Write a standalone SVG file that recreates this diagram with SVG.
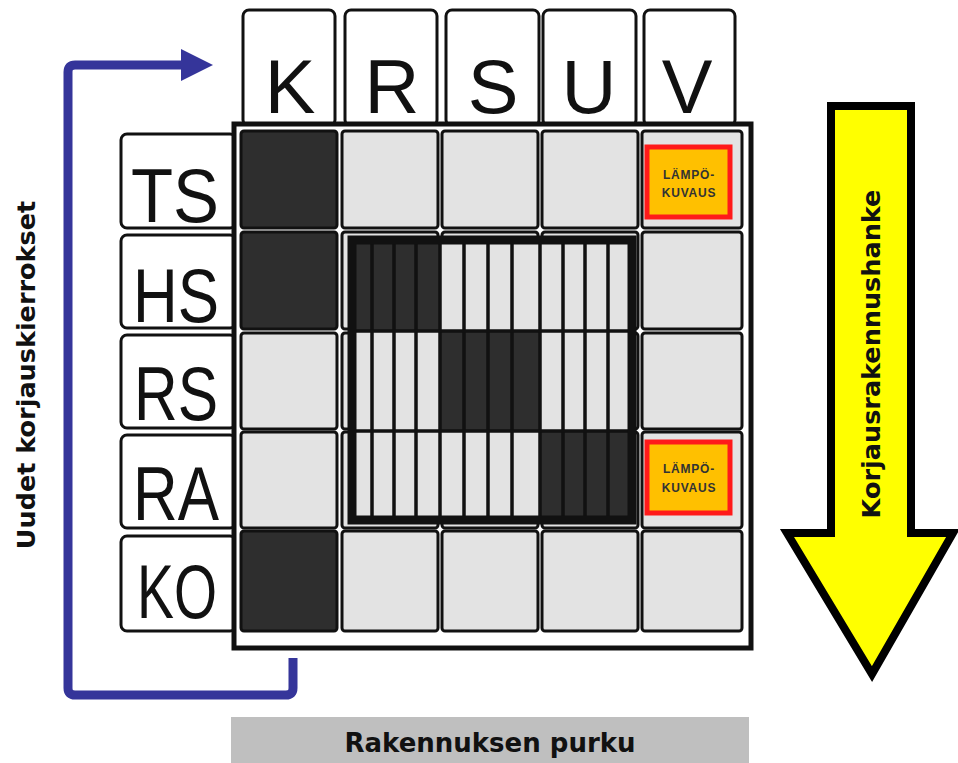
<svg xmlns="http://www.w3.org/2000/svg" width="958" height="763" viewBox="0 0 958 763">
<defs>
<style>
.hdr{fill:#fff;stroke:#111;stroke-width:3}
.big{font-family:"Liberation Sans",Arial,sans-serif;font-size:76px;fill:#111;text-anchor:middle}
.cell{fill:#e3e3e3;stroke:#111;stroke-width:3}
.dark{fill:#2e2e2e;stroke:#111;stroke-width:3}
.stripe{stroke:#111;stroke-width:3.5}
.lbl{font-family:"DejaVu Sans",Verdana,sans-serif;font-weight:bold;font-size:25.5px;fill:#111;text-anchor:middle}
.orange{fill:#ffc000;stroke:#ff1a1a;stroke-width:5}
.small{font-family:"Liberation Sans",Arial,sans-serif;font-weight:bold;font-size:12px;fill:#333;text-anchor:middle;letter-spacing:0.8px}
</style>
</defs>
<rect width="958" height="763" fill="#fff"/>

<!-- column headers -->
<g id="col-K"><rect class="hdr" x="243" y="10" width="92" height="116" rx="6"/><text class="big" x="290" y="113">K</text></g>
<g id="col-R"><rect class="hdr" x="345" y="10" width="92" height="116" rx="6"/><text class="big" x="392" y="113">R</text></g>
<g id="col-S"><rect class="hdr" x="446" y="10" width="93" height="116" rx="6"/><text class="big" x="493" y="113">S</text></g>
<g id="col-U"><rect class="hdr" x="543" y="10" width="93" height="116" rx="6"/><text class="big" x="589" y="113">U</text></g>
<g id="col-V"><rect class="hdr" x="644" y="10" width="91" height="116" rx="6"/><text class="big" x="687" y="113">V</text></g>

<!-- row headers -->
<g id="row-TS"><rect class="hdr" x="121" y="134" width="115" height="94" rx="6"/><text class="big" x="175" y="222" textLength="88" lengthAdjust="spacingAndGlyphs">TS</text></g>
<g id="row-HS"><rect class="hdr" x="121" y="235" width="115" height="93" rx="6"/><text class="big" x="176" y="322" textLength="86" lengthAdjust="spacingAndGlyphs">HS</text></g>
<g id="row-RS"><rect class="hdr" x="121" y="335" width="115" height="93" rx="6"/><text class="big" x="176" y="420" textLength="84" lengthAdjust="spacingAndGlyphs">RS</text></g>
<g id="row-RA"><rect class="hdr" x="121" y="435" width="115" height="93" rx="6"/><text class="big" x="176" y="520" textLength="86" lengthAdjust="spacingAndGlyphs">RA</text></g>
<g id="row-KO"><rect class="hdr" x="121" y="536" width="115" height="95" rx="6"/><text class="big" x="177" y="618" textLength="80" lengthAdjust="spacingAndGlyphs">KO</text></g>

<!-- matrix -->
<g id="matrix">
<rect x="234" y="124" width="517" height="524" fill="#fff" stroke="#111" stroke-width="5"/>
<!-- row TS -->
<rect class="dark" x="241" y="131" width="96" height="97" rx="3"/>
<rect class="cell" x="342" y="131" width="96" height="97" rx="3"/>
<rect class="cell" x="442" y="131" width="96" height="97" rx="3"/>
<rect class="cell" x="542" y="131" width="96" height="97" rx="3"/>
<rect class="cell" x="642" y="131" width="100" height="97" rx="3"/>
<!-- row HS -->
<rect class="dark" x="241" y="232" width="96" height="97" rx="3"/>
<rect class="cell" x="342" y="232" width="96" height="97" rx="3"/>
<rect class="cell" x="442" y="232" width="96" height="97" rx="3"/>
<rect class="cell" x="542" y="232" width="96" height="97" rx="3"/>
<rect class="cell" x="642" y="232" width="100" height="97" rx="3"/>
<!-- row RS -->
<rect class="cell" x="241" y="333" width="96" height="96" rx="3"/>
<rect class="cell" x="342" y="333" width="96" height="96" rx="3"/>
<rect class="cell" x="442" y="333" width="96" height="96" rx="3"/>
<rect class="cell" x="542" y="333" width="96" height="96" rx="3"/>
<rect class="cell" x="642" y="333" width="100" height="96" rx="3"/>
<!-- row RA -->
<rect class="cell" x="241" y="432" width="96" height="96" rx="3"/>
<rect class="cell" x="342" y="432" width="96" height="96" rx="3"/>
<rect class="cell" x="442" y="432" width="96" height="96" rx="3"/>
<rect class="cell" x="542" y="432" width="96" height="96" rx="3"/>
<rect class="cell" x="642" y="432" width="100" height="96" rx="3"/>
<!-- row KO -->
<rect class="dark" x="241" y="531" width="96" height="100" rx="3"/>
<rect class="cell" x="342" y="531" width="96" height="100" rx="3"/>
<rect class="cell" x="442" y="531" width="96" height="100" rx="3"/>
<rect class="cell" x="542" y="531" width="96" height="100" rx="3"/>
<rect class="cell" x="642" y="531" width="100" height="100" rx="3"/>
</g>

<!-- inner striped block -->
<g id="inner-block">
<rect x="352" y="240" width="280" height="280" fill="#e3e3e3"/>
<rect x="352" y="240" width="88" height="90" fill="#2e2e2e"/>
<rect x="440" y="332" width="100" height="98" fill="#2e2e2e"/>
<rect x="540" y="432" width="92" height="88" fill="#2e2e2e"/>
<g class="stripe">
<line x1="372" y1="240" x2="372" y2="520"/>
<line x1="394" y1="240" x2="394" y2="520"/>
<line x1="416" y1="240" x2="416" y2="520"/>
<line x1="440" y1="240" x2="440" y2="520"/>
<line x1="464" y1="240" x2="464" y2="520"/>
<line x1="488" y1="240" x2="488" y2="520"/>
<line x1="512" y1="240" x2="512" y2="520"/>
<line x1="540" y1="240" x2="540" y2="520"/>
<line x1="563" y1="240" x2="563" y2="520"/>
<line x1="585" y1="240" x2="585" y2="520"/>
<line x1="608" y1="240" x2="608" y2="520"/>
<line x1="352" y1="331" x2="632" y2="331"/>
<line x1="352" y1="431" x2="632" y2="431"/>
</g>
<rect x="352" y="240" width="280" height="280" fill="none" stroke="#111" stroke-width="9"/>
</g>

<!-- thermal imaging boxes -->
<g id="lampo-1">
<rect class="orange" x="647" y="147" width="83" height="70"/>
<text class="small" x="689" y="179">LÄMPÖ-</text>
<text class="small" x="689" y="197">KUVAUS</text>
</g>
<g id="lampo-2">
<rect class="orange" x="647" y="442" width="83" height="71"/>
<text class="small" x="689" y="473">LÄMPÖ-</text>
<text class="small" x="689" y="492">KUVAUS</text>
</g>

<!-- connectors -->
<g id="connectors">
<path d="M293 658 V688 Q293 695 286 695 H75 Q68 695 68 688 V72 Q68 65 75 65 H184" fill="none" stroke="#35359a" stroke-width="9"/>
<polygon points="181,49 213,65 181,81" fill="#35359a"/>
<polygon points="831,106 911,106 911,533 953,533 872,674 787,533 831,533" fill="#ffff00" stroke="#000" stroke-width="8" stroke-linejoin="miter"/>
</g>

<!-- labels -->
<g id="label-korjausrakennushanke"><text class="lbl" transform="translate(880,354) rotate(-90)">Korjausrakennushanke</text></g>
<g id="label-uudet"><text class="lbl" transform="translate(35,375) rotate(-90)">Uudet korjauskierrokset</text></g>
<g id="label-purku">
<rect x="231" y="717" width="518" height="46" fill="#bfbfbf"/>
<text class="lbl" x="490" y="752" style="font-size:26px">Rakennuksen purku</text>
</g>
</svg>
